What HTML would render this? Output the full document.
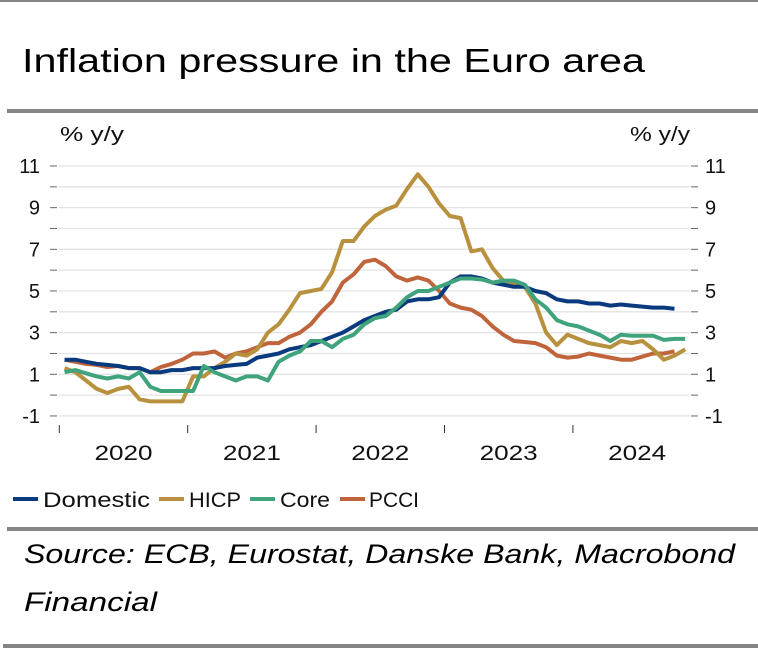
<!DOCTYPE html>
<html><head><meta charset="utf-8"><style>
body{margin:0;width:758px;height:664px;background:#fff;overflow:hidden;font-family:"Liberation Sans","DejaVu Sans",sans-serif}
</style></head><body>
<svg width="758" height="664" xmlns="http://www.w3.org/2000/svg">
<rect x="0" y="0" width="758" height="2" fill="#858585"/>
<text x="22" y="72" font-size="33" fill="#000" textLength="623" lengthAdjust="spacingAndGlyphs">Inflation pressure in the Euro area</text>
<rect x="7" y="109" width="751" height="4" fill="#858585"/>
<text x="60" y="141" font-size="20" fill="#111" textLength="64" lengthAdjust="spacingAndGlyphs">% y/y</text>
<text x="630" y="141" font-size="20" fill="#111" textLength="60" lengthAdjust="spacingAndGlyphs">% y/y</text>
<g id="grid"></g><g id="axes"></g><g id="series"></g>
<g font-size="21" fill="#111">
<rect x="13" y="497" width="25" height="4" fill="#0a3a7e"/>
<text x="43" y="507" textLength="107" lengthAdjust="spacingAndGlyphs">Domestic</text>
<rect x="159" y="497" width="25" height="4" fill="#b8913f"/>
<text x="189" y="507" textLength="52" lengthAdjust="spacingAndGlyphs">HICP</text>
<rect x="250" y="497" width="25" height="4" fill="#3fa37c"/>
<text x="280" y="507" textLength="50" lengthAdjust="spacingAndGlyphs">Core</text>
<rect x="340" y="497" width="25" height="4" fill="#c0643b"/>
<text x="369" y="507" textLength="50" lengthAdjust="spacingAndGlyphs">PCCI</text>
</g>
<rect x="7" y="527" width="751" height="4" fill="#858585"/>
<text x="24" y="563" font-size="27" font-style="italic" fill="#000" textLength="711" lengthAdjust="spacingAndGlyphs">Source: ECB, Eurostat, Danske Bank, Macrobond</text>
<text x="24" y="611" font-size="27" font-style="italic" fill="#000" textLength="133" lengthAdjust="spacingAndGlyphs">Financial</text>
<rect x="3" y="644" width="755" height="4" fill="#858585"/>
</svg>
<script>
const years=["2020","2021","2022","2023","2024"];
const yTicks=[11,9,7,5,3,1,-1];
const domestic=[1.7,1.7,1.6,1.5,1.45,1.4,1.3,1.3,1.1,1.1,1.2,1.2,1.3,1.3,1.3,1.4,1.45,1.5,1.8,1.9,2.0,2.2,2.3,2.4,2.6,2.8,3.0,3.3,3.6,3.8,4.0,4.1,4.5,4.6,4.6,4.7,5.4,5.7,5.7,5.6,5.4,5.3,5.2,5.2,5.0,4.9,4.6,4.5,4.5,4.4,4.4,4.3,4.35,4.3,4.25,4.2,4.2,4.15];
const hicp=[1.3,1.1,0.7,0.3,0.1,0.3,0.4,-0.2,-0.3,-0.3,-0.3,-0.3,0.9,0.9,1.3,1.6,2.0,1.9,2.2,3.0,3.4,4.1,4.9,5.0,5.1,5.9,7.4,7.4,8.1,8.6,8.9,9.1,9.9,10.6,10.0,9.2,8.6,8.5,6.9,7.0,6.1,5.5,5.3,5.2,4.4,3.0,2.4,2.9,2.7,2.5,2.4,2.3,2.6,2.5,2.6,2.2,1.7,1.9,2.2];
const core=[1.1,1.2,1.05,0.9,0.8,0.9,0.8,1.1,0.4,0.2,0.2,0.2,0.2,1.4,1.1,0.9,0.7,0.9,0.9,0.7,1.6,1.9,2.1,2.6,2.6,2.3,2.7,2.9,3.4,3.7,3.8,4.2,4.7,5.0,5.0,5.2,5.4,5.6,5.6,5.55,5.4,5.5,5.5,5.3,4.6,4.2,3.6,3.4,3.3,3.1,2.9,2.6,2.9,2.85,2.85,2.85,2.65,2.7,2.7];
const pcci=[1.7,1.6,1.5,1.45,1.35,1.4,1.3,1.3,1.1,1.35,1.5,1.7,2.0,2.0,2.1,1.8,2.0,2.1,2.3,2.5,2.5,2.8,3.0,3.4,4.0,4.5,5.4,5.8,6.4,6.5,6.2,5.7,5.5,5.65,5.5,5.0,4.4,4.2,4.1,3.8,3.3,2.9,2.6,2.55,2.5,2.3,1.9,1.8,1.85,2.0,1.9,1.8,1.7,1.7,1.85,2.0,2.0,2.1];
const NS="http://www.w3.org/2000/svg";
function X(i){return 59.3+(i+0.5)*10.7;}
function Y(v){return 166+(11-v)*20.83;}
function mk(tag,attrs,parent){const e=document.createElementNS(NS,tag);for(const k in attrs)e.setAttribute(k,attrs[k]);document.getElementById(parent).appendChild(e);return e;}
for(let v=-1;v<=11;v++){
 const g=mk('line',{x1:59,x2:690,y1:Y(v),y2:Y(v),stroke:'#e3e3e3','stroke-width':1.3},'grid');
 
 
 const t1=mk('line',{x1:50,x2:57,y1:Y(v),y2:Y(v),stroke:'#666','stroke-width':1},'axes');
 
 
 const t2=mk('line',{x1:691,x2:698,y1:Y(v),y2:Y(v),stroke:'#666','stroke-width':1},'axes');
 
 
}
yTicks.forEach(v=>{
 const a=mk('text',{x:40,y:Y(v)+7,'font-size':20,'text-anchor':'end',fill:'#111'},'axes');a.textContent=v;
 
 
 const b=mk('text',{x:705,y:Y(v)+7,'font-size':20,fill:'#111'},'axes');b.textContent=v;
 
 
});
years.forEach((yr,k)=>{
 const x0=X(k*12-0.5);
 const t=mk('line',{x1:x0,x2:x0,y1:425,y2:433,stroke:'#333','stroke-width':1},'axes');
 
 
 const l=mk('text',{x:X(k*12+5.5)-29,y:460,'font-size':21,fill:'#111',textLength:58,lengthAdjust:'spacingAndGlyphs'},'axes');l.textContent=yr;
 
 
});
[[pcci,'#c0643b','pcci-line'],[hicp,'#b8913f','hicp-line'],[domestic,'#0a3a7e','domestic-line'],[core,'#3fa37c','core-line']].forEach(([d,c,n])=>{
 const p=mk('polyline',{points:d.map((v,i)=>X(i).toFixed(1)+','+Y(v).toFixed(1)).join(' '),fill:'none',stroke:c,'stroke-width':4,'stroke-linejoin':'round'},'series');
 
 
});
</script>
</body></html>
